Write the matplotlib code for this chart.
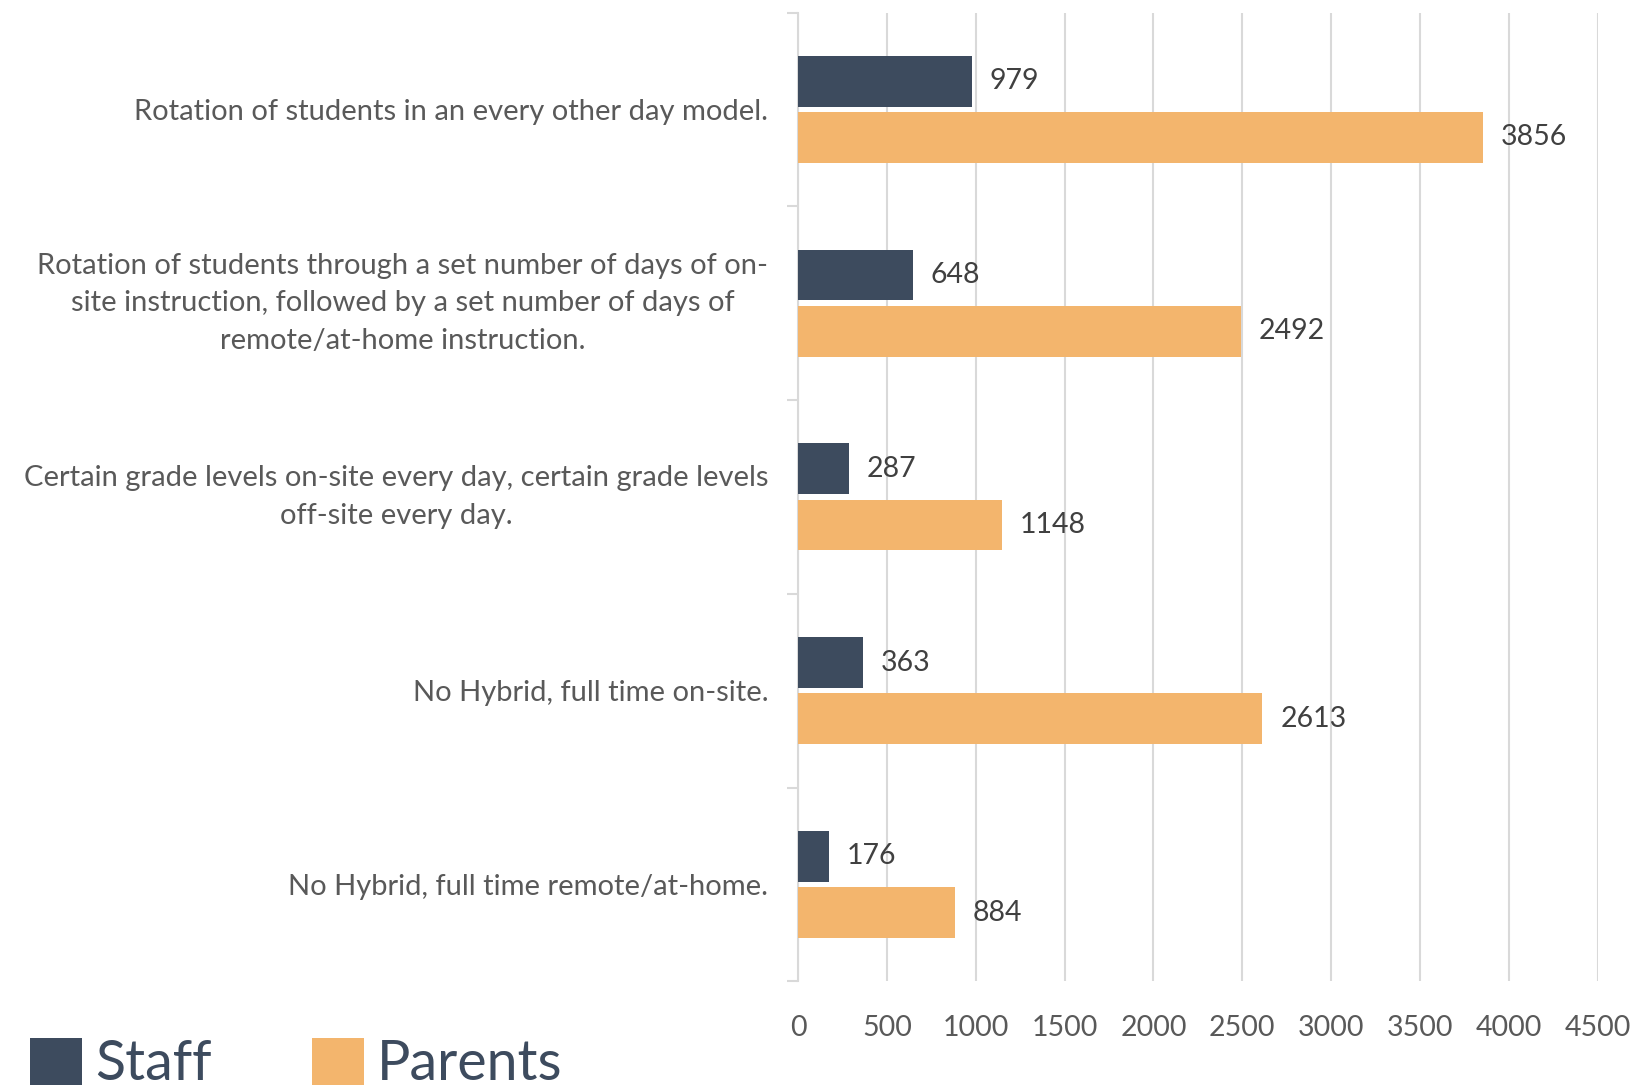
import matplotlib.pyplot as plt
import numpy as np

plt.rcParams['font.family'] = ['Lato', 'DejaVu Sans']

categories = [
    "Rotation of students in an every other day model.",
    "Rotation of students through a set number of days of on-\nsite instruction, followed by a set number of days of\nremote/at-home instruction.",
    "Certain grade levels on-site every day, certain grade levels\noff-site every day.",
    "No Hybrid, full time on-site.",
    "No Hybrid, full time remote/at-home.",
]
staff = [979, 648, 287, 363, 176]
parents = [3856, 2492, 1148, 2613, 884]

staff_color = "#3D4B5E"
parents_color = "#F3B56D"
text_color = "#595959"

fig = plt.figure(figsize=(16.32, 10.88), dpi=100)
ax = fig.add_axes([0.489, 0.098, 0.49, 0.8905])

y = np.arange(len(categories))
h = 0.262
b1 = ax.barh(y - 0.145, staff, height=h, color=staff_color, label="Staff", zorder=3)
b2 = ax.barh(y + 0.145, parents, height=h, color=parents_color, label="Parents", zorder=3)

for bars, vals in [(b1, staff), (b2, parents)]:
    for bar, v in zip(bars, vals):
        ax.text(v + 100, bar.get_y() + bar.get_height() / 2, str(v),
                va='center', ha='left', fontsize=20.5, color='#404040')

ax.set_xlim(0, 4500)
ax.set_ylim(len(categories) - 0.5, -0.5)
ax.set_xticks(np.arange(0, 4501, 500))
ax.tick_params(axis='x', length=0, labelsize=20.5, labelcolor=text_color, pad=24)
ax.grid(axis='x', color='#D9D9D9', linewidth=1.5, zorder=0)

# ticks between categories, labels at category centres
ax.set_yticks(np.arange(-0.5, len(categories), 1))
ax.set_yticklabels([])
ax.tick_params(axis='y', length=8, color='#D9D9D9', width=1.5)
ax.set_yticks(y, minor=True)
labels = ax.set_yticklabels(categories, minor=True, fontsize=21, color=text_color,
                            multialignment='center', linespacing=1.55)
for lab in labels:
    if '\n' in lab.get_text():
        lab.set_verticalalignment('center')
ax.tick_params(axis='y', which='minor', length=0, pad=21.5)

for s in ['top', 'right', 'bottom']:
    ax.spines[s].set_visible(False)
ax.spines['left'].set_color('#D9D9D9')
ax.spines['left'].set_linewidth(1.5)

leg = fig.legend(handles=[b1, b2], loc='center left', bbox_to_anchor=(0.0184, 0.022),
                 ncol=2, fontsize=40, frameon=False, handlelength=0.935,
                 handleheight=0.935, handletextpad=0.24, columnspacing=1.8,
                 borderaxespad=0, borderpad=0)
for t in leg.get_texts():
    t.set_color(staff_color)
leg.get_texts()[1].set_x(leg.get_texts()[1].get_position()[0])

fig.savefig("out.png", dpi=100)
